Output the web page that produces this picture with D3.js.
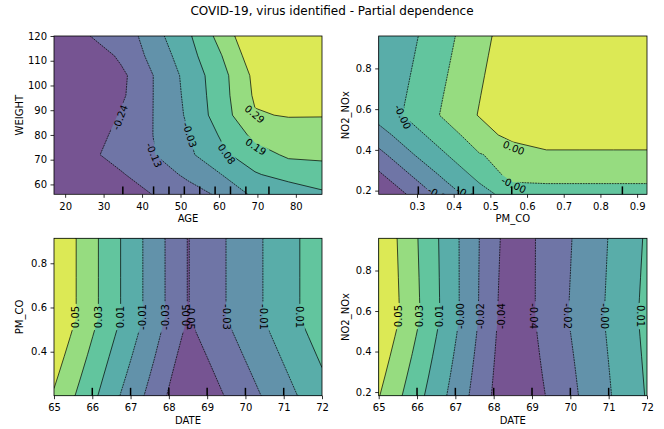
<!DOCTYPE html>
<html><head><meta charset="utf-8">
<script src="https://cdn.jsdelivr.net/npm/d3@7"></script>
<style>body{margin:0;background:#fff} text{font-family:"DejaVu Sans",sans-serif}</style>
</head><body><svg id="c" width="664" height="429"></svg>
<script>
const title = "COVID-19, virus identified - Partial dependence";

// ---------- Panel 1: AGE x WEIGHT ----------
const ageGrid = [17.1, 25.81, 34.53, 43.24, 51.95, 60.66, 69.38, 78.09, 86.8];
const weightGrid = [56, 64, 72, 80, 88, 96, 104, 112, 120];
const pdAgeWeight = [
  [-0.348, -0.3266, -0.2952, -0.2362, -0.1765, -0.1169, -0.0031, 0.0066, 0.0685],
  [-0.3266, -0.2946, -0.2500, -0.1849, -0.1150, -0.0280, 0.0690, 0.1219, 0.1166],
  [-0.3160, -0.2642, -0.2033, -0.1365, -0.0486, 0.0547, 0.1433, 0.2020, 0.2180],
  [-0.348, -0.2917, -0.2115, -0.1306, -0.0316, 0.0926, 0.2134, 0.2394, 0.2394],
  [-0.348, -0.3312, -0.2305, -0.1299, -0.0122, 0.1381, 0.2843, 0.2992, 0.2981],
  [-0.348, -0.3160, -0.2603, -0.1293, -0.0028, 0.1450, 0.3080, 0.3996, 0.3996],
  [-0.348, -0.3266, -0.2678, -0.1292, 0.0064, 0.1495, 0.3191, 0.3996, 0.3996],
  [-0.3373, -0.3327, -0.2187, -0.0993, 0.0366, 0.1835, 0.3590, 0.3996, 0.3996],
  [-0.2946, -0.2441, -0.2080, -0.0646, 0.0610, 0.2272, 0.3932, 0.3996, 0.3996]
];
const levelsAgeWeight = [-0.348, -0.2412, -0.1344, -0.0276, 0.0792, 0.186, 0.2928, 0.3996];
const ageDeciles = [35, 43, 47, 51, 55, 59, 63, 67, 73];
const ageTicks = [20, 30, 40, 50, 60, 70, 80];
const weightTicks = [60, 70, 80, 90, 100, 110, 120];
const labelsAgeWeight = [[34.3, 87.1, 1, -69], [43.1, 71.9, 2, 67], [52.4, 80, 3, 72], [62.0, 72.3, 4, 55], [69.6, 75.2, 5, 33], [69.3, 88.4, 6, 40]];

// ---------- Panel 2: PM_CO x NO2_NOx ----------
const pmcoGrid = [0.1956, 0.287, 0.3784, 0.4698, 0.5612, 0.6527, 0.7441, 0.8355, 0.927];
const no2Grid = [0.182, 0.2791, 0.3763, 0.4734, 0.5705, 0.6676, 0.7648, 0.8619, 0.959];
const pdPmcoNo2 = [
  [-0.0035, -0.002775, -0.002019, -0.001339, -0.00083, -0.00074, -0.00074, -0.00074, -0.00074],
  [-0.002992, -0.002251, -0.001539, -0.000919, -0.00029, -0.000296, -0.000296, -0.000296, -0.000296],
  [-0.002482, -0.001738, -0.001126, -0.000528, -0.000315, -0.000016, -0.00002, -0.00002, -0.00002],
  [-0.00194, -0.001322, -0.000743, -0.000198, 0.00033, 0.00046, 0.000472, 0.000472, 0.000472],
  [-0.001482, -0.000939, -0.000398, 0.000135, 0.00067, 0.0007, 0.0007, 0.0007, 0.0007],
  [-0.001546, -0.001005, -0.000461, 0.000076, 0.000613, 0.0007, 0.0007, 0.0007, 0.0007],
  [-0.001604, -0.001069, -0.000526, 0.000015, 0.000557, 0.0007, 0.0007, 0.0007, 0.0007],
  [-0.00167, -0.001134, -0.000591, -0.000046, 0.000498, 0.0007, 0.0007, 0.0007, 0.0007],
  [-0.00164, -0.001198, -0.000656, -0.000109, 0.00044, 0.0007, 0.0007, 0.0007, 0.0007]
];
const levelsPmcoNo2 = [-0.0035, -0.0029, -0.0023, -0.0017, -0.0011, -0.0005, 0.0001, 0.0007];
const pmcoDeciles = [0.3036, 0.4127, 0.4536, 0.5583, 0.8599];
const pmcoTicks = [0.3, 0.4, 0.5, 0.6, 0.7, 0.8, 0.9];
const no2Ticks = [0.2, 0.4, 0.6, 0.8];
const labelsPmcoNo2 = [[0.261, 0.562, 4, 65], [0.5637, 0.4096, 6, 22], [0.5637, 0.228, 5, 25], [0.362, 0.176, 2, 30], [0.44, 0.176, 3, 30]];

// ---------- Panel 3: DATE x PM_CO ----------
const dateGrid = [65, 65.875, 66.75, 67.625, 68.5, 69.375, 70.25, 71.125, 72];
const pmcoGridB = [0.201, 0.29, 0.379, 0.468, 0.557, 0.646, 0.735, 0.824, 0.913];
const pdDatePmco = [
  [0.044, 0.01534, -0.01498, -0.0426, -0.074, -0.05536, -0.03734, -0.0189, -0.00066],
  [0.0495, 0.02046, -0.00982, -0.03808, -0.06916, -0.05062, -0.03258, -0.0142, 0.004],
  [0.055, 0.02558, -0.00466, -0.03354, -0.06434, -0.0459, -0.0278, -0.0095, 0.00868],
  [0.0605, 0.03068, 0.0005, -0.02902, -0.0595, -0.04116, -0.02304, -0.00482, 0.01334],
  [0.066, 0.0358, 0.00566, -0.0245, -0.05468, -0.03644, -0.01828, -0.00012, 0.018],
  [0.066, 0.0358, 0.00566, -0.0245, -0.05468, -0.03644, -0.01828, -0.00012, 0.018],
  [0.066, 0.0358, 0.00566, -0.0245, -0.05468, -0.03644, -0.01828, -0.00012, 0.018],
  [0.066, 0.0358, 0.00566, -0.0245, -0.05468, -0.03644, -0.01828, -0.00012, 0.018],
  [0.066, 0.0358, 0.00566, -0.0245, -0.05468, -0.03644, -0.01828, -0.00012, 0.018]
];
const levelsDatePmco = [-0.074, -0.054, -0.034, -0.014, 0.006, 0.026, 0.046, 0.066];
const dateDeciles = [66, 67, 68, 69, 70, 71];
const dateTicks = [65, 66, 67, 68, 69, 70, 71, 72];
const pmcoTicksB = [0.4, 0.6, 0.8];
const labelsDatePmco = [[65.57, 0.557, 6, -90], [66.16, 0.557, 5, -90], [66.74, 0.557, 4, -90], [67.32, 0.557, 3, -90], [67.9, 0.557, 2, -90], [68.46, 0.557, 1, -90], [68.56, 0.557, 1, 90], [69.51, 0.557, 2, 90], [70.48, 0.557, 3, 90], [71.42, 0.557, 4, 90]];

// ---------- Panel 4: DATE x NO2_NOx ----------
const pdDateNo2 = [
  [0.04783, 0.02303, -0.00181, -0.02664, -0.05126, -0.03502, -0.01829, -0.00156, 0.01516],
  [0.05175, 0.02652, 0.00092, -0.02492, -0.05061, -0.03349, -0.01717, -0.00072, 0.01591],
  [0.05566, 0.03002, 0.00362, -0.02321, -0.04997, -0.03197, -0.01605, 0.00014, 0.01667],
  [0.05959, 0.03352, 0.00634, -0.02151, -0.04934, -0.03043, -0.01492, 0.00098, 0.01743],
  [0.0635, 0.03702, 0.00905, -0.01979, -0.0487, -0.02892, -0.0138, 0.00182, 0.01819],
  [0.06302, 0.03652, 0.00887, -0.01959, -0.04788, -0.02936, -0.0142, 0.00139, 0.01766],
  [0.06256, 0.03603, 0.00869, -0.01941, -0.04703, -0.02982, -0.01458, 0.00097, 0.01712],
  [0.06208, 0.03552, 0.00851, -0.01921, -0.04621, -0.03027, -0.01497, 0.00054, 0.01659],
  [0.0616, 0.03502, 0.00832, -0.01903, -0.04538, -0.03073, -0.01537, 0.00011, 0.01605]
];
const levelsDateNo2 = [-0.052, -0.0355, -0.019, -0.0025, 0.014, 0.0305, 0.047, 0.0635];
const labelsDateNo2 = [[65.52, 0.575, 6, -90], [66.06, 0.575, 5, -90], [66.58, 0.575, 4, -90], [67.13, 0.575, 3, -90], [67.65, 0.575, 2, -90], [68.19, 0.575, 1, -90], [69.03, 0.575, 1, 90], [69.94, 0.575, 2, 90], [70.89, 0.575, 3, 90], [71.83, 0.575, 4, 90]];

// ---------- layout (pixel boxes: left, right, top, bottom) ----------
const boxes = [[54, 322, 36, 194.3], [378.7, 647, 36, 194.3], [54, 322, 238.3, 395.7], [378.7, 647, 238.3, 395.7]];
const yLabelX = [22.5, 349, 23, 349];

const panels = [
  {xg: ageGrid, yg: weightGrid, z: pdAgeWeight, levels: levelsAgeWeight, deciles: ageDeciles, xt: ageTicks, yt: weightTicks, xf: d3.format("d"), yf: d3.format("d"), xl: "AGE", yl: "WEIGHT", labels: labelsAgeWeight},
  {xg: pmcoGrid, yg: no2Grid, z: pdPmcoNo2, levels: levelsPmcoNo2, deciles: pmcoDeciles, xt: pmcoTicks, yt: no2Ticks, xf: d3.format(".1f"), yf: d3.format(".1f"), xl: "PM_CO", yl: "NO2_NOx", labels: labelsPmcoNo2},
  {xg: dateGrid, yg: pmcoGridB, z: pdDatePmco, levels: levelsDatePmco, deciles: dateDeciles, xt: dateTicks, yt: pmcoTicksB, xf: d3.format("d"), yf: d3.format(".1f"), xl: "DATE", yl: "PM_CO", labels: labelsDatePmco},
  {xg: dateGrid, yg: no2Grid, z: pdDateNo2, levels: levelsDateNo2, deciles: dateDeciles, xt: dateTicks, yt: no2Ticks, xf: d3.format("d"), yf: d3.format(".1f"), xl: "DATE", yl: "NO2_NOx", labels: labelsDateNo2}
];

const svg = d3.select("#c");
svg.append("rect").attr("width", 664).attr("height", 429).attr("fill", "#fff");
svg.append("text").attr("x", 332).attr("y", 15.3).attr("text-anchor", "middle").attr("font-size", 12).attr("fill", "#000").text(title);

const fmtLevel = v => (v < 0 ? "-" : "") + Math.abs(v).toFixed(2);
const bandColors = d3.range(7).map(k => d3.interpolateRgb("#ffffff", d3.interpolateViridis((k + 0.5) / 7))(0.75));

panels.forEach((p, pi) => {
  const [L, R, T, B] = boxes[pi];
  const x = d3.scaleLinear().domain(d3.extent(p.xg)).range([L, R]);
  const y = d3.scaleLinear().domain(d3.extent(p.yg)).range([B, T]);
  const nx = p.xg.length, ny = p.yg.length;
  const gx = d3.scaleLinear().domain([0.5, nx - 0.5]).range([L, R]);
  const gy = d3.scaleLinear().domain([0.5, ny - 0.5]).range([B, T]);
  const values = [].concat(...p.z);
  const cs = d3.contours().size([nx, ny]).thresholds(p.levels.slice(1, 7))(values);
  const path = d3.geoPath(d3.geoTransform({point(a, b) { this.stream.point(gx(a), gy(b)); }}));

  const clipId = "clip" + pi;
  svg.append("clipPath").attr("id", clipId).append("rect").attr("x", L).attr("y", T).attr("width", R - L).attr("height", B - T);
  const maskId = "mask" + pi;
  const mask = svg.append("mask").attr("id", maskId).attr("maskUnits", "userSpaceOnUse").attr("x", 0).attr("y", 0).attr("width", 664).attr("height", 429);
  mask.append("rect").attr("width", 664).attr("height", 429).attr("fill", "white");

  const g = svg.append("g").attr("clip-path", `url(#${clipId})`);
  g.append("rect").attr("x", L).attr("y", T).attr("width", R - L).attr("height", B - T).attr("fill", bandColors[0]);
  g.append("g").selectAll("path").data(cs).join("path").attr("d", path).attr("fill", (d, i) => bandColors[i + 1]);
  g.append("g").attr("mask", `url(#${maskId})`).selectAll("path").data(cs).join("path")
    .attr("d", path).attr("fill", "none").attr("stroke", "#000").attr("stroke-width", 0.7)
    .attr("stroke-dasharray", d => d.value < 0 ? "1.85,0.8" : null);
  const lg = g.append("g");
  p.labels.forEach(([lx, ly, k, rot]) => {
    const tr = `translate(${x(lx)},${y(ly)}) rotate(${rot})`;
    const t = lg.append("text").attr("transform", tr).attr("text-anchor", "middle").attr("dy", "0.36em")
      .attr("font-size", 10).attr("fill", "#000").text(fmtLevel(p.levels[k]));
    const w = t.node().getComputedTextLength();
    mask.append("rect").attr("transform", tr).attr("x", -w / 2 - 2).attr("y", -5).attr("width", w + 4).attr("height", 10).attr("fill", "black");
  });

  // deciles
  svg.append("g").selectAll("line").data(p.deciles).join("line")
    .attr("x1", d => x(d)).attr("x2", d => x(d)).attr("y1", B).attr("y2", B - 0.05 * (B - T))
    .attr("stroke", "#000").attr("stroke-width", 1.5);

  // spines
  svg.append("rect").attr("x", L).attr("y", T).attr("width", R - L).attr("height", B - T)
    .attr("fill", "none").attr("stroke", "#000").attr("stroke-width", 0.8);

  const xa = svg.append("g").attr("transform", `translate(0,${B})`)
    .call(d3.axisBottom(x).tickValues(p.xt).tickFormat(p.xf).tickSize(3.5).tickPadding(3.5).tickSizeOuter(0));
  const ya = svg.append("g").attr("transform", `translate(${L},0)`)
    .call(d3.axisLeft(y).tickValues(p.yt).tickFormat(p.yf).tickSize(3.5).tickPadding(3.5).tickSizeOuter(0));
  [xa, ya].forEach(a => {
    a.attr("font-family", "DejaVu Sans").attr("font-size", 10);
    a.select(".domain").remove();
    a.selectAll("line").attr("stroke", "#000").attr("stroke-width", 0.8);
    a.selectAll("text").attr("fill", "#000");
  });
  xa.selectAll("text").attr("y", 15.6).attr("dy", 0);

  svg.append("text").attr("x", (L + R) / 2).attr("y", B + 28).attr("text-anchor", "middle").attr("font-size", 10).attr("fill", "#000").text(p.xl);
  svg.append("text").attr("transform", `translate(${yLabelX[pi]},${(T + B) / 2}) rotate(-90)`).attr("text-anchor", "middle").attr("font-size", 10).attr("fill", "#000").text(p.yl);
});
</script></body></html>
